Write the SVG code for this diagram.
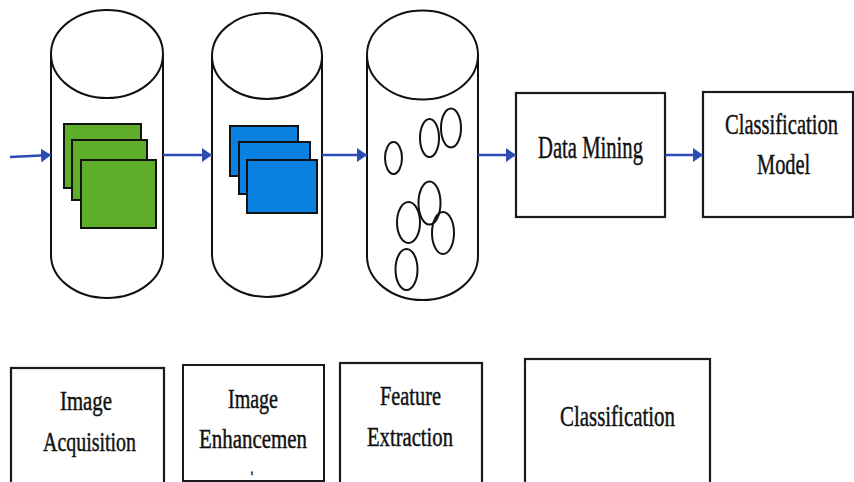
<svg xmlns="http://www.w3.org/2000/svg" width="854" height="482" viewBox="0 0 854 482">
<style>
.cyl{fill:#fff;stroke:#111;stroke-width:2}
.box{fill:#fff;stroke:#1a1a1a;stroke-width:2.2}
.g{fill:#5fae2a;stroke:#111;stroke-width:2}
.b{fill:#0a80e0;stroke:#111;stroke-width:2}
.dot{fill:none;stroke:#111;stroke-width:2}
.t{font-family:"Liberation Serif","Times New Roman",serif;fill:#111;stroke:#111;stroke-width:0.45}
.arr{stroke:#2b4db3;stroke-width:2.5;fill:none;marker-end:url(#ah)}
</style>
<defs>
<marker id="ah" markerWidth="10" markerHeight="14" refX="10" refY="7" orient="auto" markerUnits="userSpaceOnUse">
<path d="M0,0 L10,7 L0,14 Z" fill="#2b4db3"/>
</marker>
</defs>
<rect width="854" height="482" fill="#fff"/>

<g id="cylinder-acquisition">
<path class="cyl" d="M51,54 V255 A56,43 0 0 0 163,255 V54"/>
<ellipse class="cyl" cx="107" cy="54" rx="56" ry="44"/>
<rect class="g" x="64" y="124" width="77" height="64"/>
<rect class="g" x="72" y="140" width="75" height="60"/>
<rect class="g" x="81" y="160" width="75" height="68"/>
</g>

<g id="cylinder-enhancement">
<path class="cyl" d="M212,56 V254 A55,43 0 0 0 322,254 V56"/>
<ellipse class="cyl" cx="267" cy="56" rx="55" ry="43"/>
<rect class="b" x="230" y="126" width="68" height="50"/>
<rect class="b" x="239" y="142" width="71" height="52"/>
<rect class="b" x="247" y="160" width="70" height="53"/>
</g>

<g id="cylinder-features">
<path class="cyl" d="M367,55 V256 A55.5,44 0 0 0 478,256 V55"/>
<ellipse class="cyl" cx="422.5" cy="55" rx="55.5" ry="44.5"/>
<ellipse class="dot" cx="393.5" cy="158" rx="8.5" ry="16"/>
<ellipse class="dot" cx="429.5" cy="138" rx="9.5" ry="19"/>
<ellipse class="dot" cx="451" cy="128" rx="10" ry="19.5"/>
<ellipse class="dot" cx="429.5" cy="203" rx="11" ry="21.5"/>
<ellipse class="dot" cx="408.5" cy="222.5" rx="11.5" ry="20.5"/>
<ellipse class="dot" cx="443" cy="233" rx="11" ry="21"/>
<ellipse class="dot" cx="406.5" cy="269.5" rx="11" ry="20.5"/>
</g>

<g id="data-mining">
<rect class="box" x="516" y="93" width="149" height="124"/>
<text class="t" x="538" y="158" font-size="32" textLength="105" lengthAdjust="spacingAndGlyphs">Data Mining</text>
</g>

<g id="classification-model">
<rect class="box" x="703" y="92" width="150" height="125"/>
<text class="t" transform="translate(725,134) scale(0.685,1)" x="0" y="0" font-size="30">Classification</text>
<text class="t" transform="translate(757,174) scale(0.68,1)" x="0" y="0" font-size="30">Model</text>
</g>

<g id="label-image-acquisition">
<rect class="box" x="11" y="368" width="153" height="120"/>
<text class="t" x="60" y="410" font-size="27" textLength="52" lengthAdjust="spacingAndGlyphs">Image</text>
<text class="t" x="43" y="451" font-size="27" textLength="93" lengthAdjust="spacingAndGlyphs">Acquisition</text>
</g>

<g id="label-image-enhancement">
<rect class="box" x="183" y="365" width="141" height="116" style="stroke-width:2"/>
<text class="t" x="228" y="408" font-size="27" textLength="50" lengthAdjust="spacingAndGlyphs">Image</text>
<text class="t" x="199" y="448" font-size="27" textLength="108" lengthAdjust="spacingAndGlyphs">Enhancemen</text>
<text class="t" x="251" y="475" font-size="7">t</text>
</g>

<g id="label-feature-extraction">
<rect class="box" x="340" y="363" width="142" height="125"/>
<text class="t" x="380" y="405" font-size="27" textLength="61" lengthAdjust="spacingAndGlyphs">Feature</text>
<text class="t" x="367" y="446" font-size="27" textLength="86" lengthAdjust="spacingAndGlyphs">Extraction</text>
</g>

<g id="label-classification">
<rect class="box" x="525" y="359" width="185" height="130"/>
<text class="t" x="560" y="426" font-size="30" textLength="115" lengthAdjust="spacingAndGlyphs">Classification</text>
</g>

<g id="connectors">
<path class="arr" d="M10,157 L51,155"/>
<path class="arr" d="M163,155 L212,155"/>
<path class="arr" d="M322,155 L367,155"/>
<path class="arr" d="M478,155 L516,155"/>
<path class="arr" d="M665,155 L703,155"/>
</g>
</svg>
